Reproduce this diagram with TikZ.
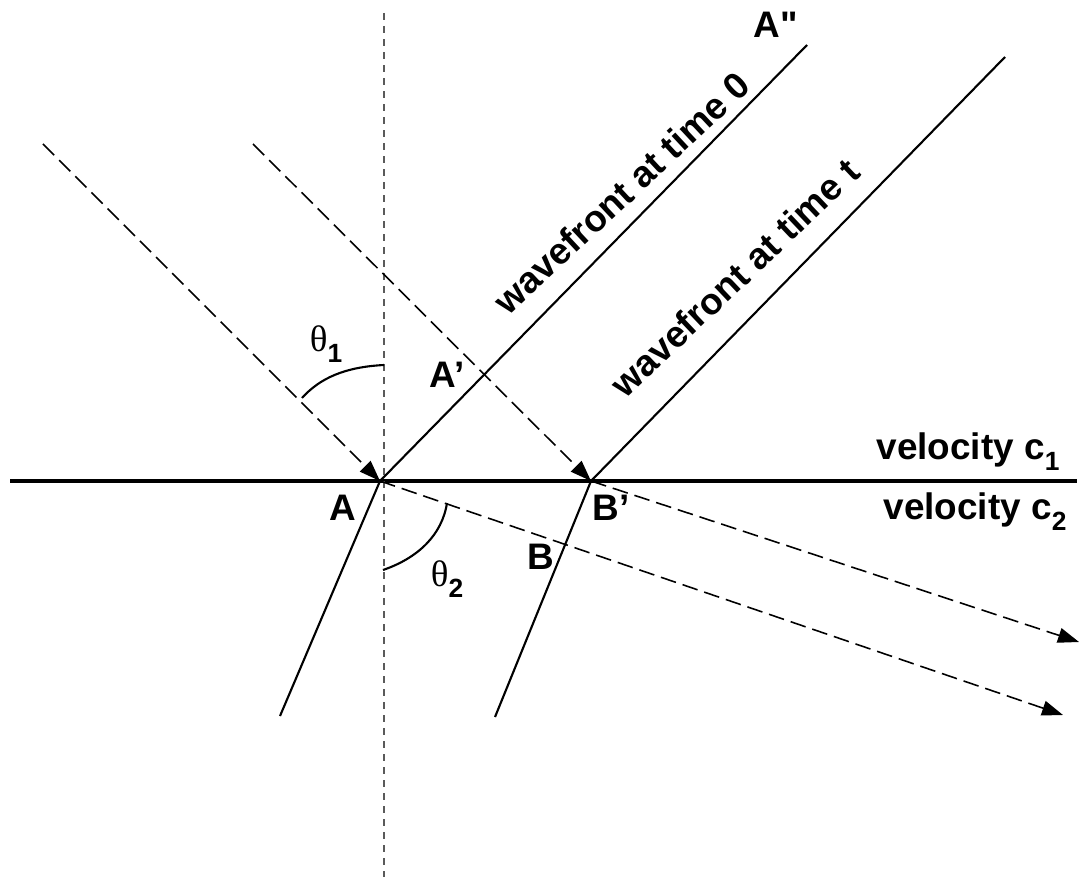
\documentclass[tikz,border=0pt]{standalone}
\usepackage{fontspec}
\setmainfont{Liberation Sans}
\newfontfamily\thetafont{Liberation Serif}
\newfontfamily\quotefont{Liberation Sans}
\usepackage{tikz}
\usetikzlibrary{arrows.meta}
\definecolor{normgray}{RGB}{90,90,90}
\newcommand{\lsub}[1]{\raisebox{-0.3em}{\fontsize{7.5}{8}\selectfont #1}}

\begin{document}
\begin{tikzpicture}[every node/.style={font=\fontsize{10.5}{12}\selectfont\bfseries, inner sep=1pt},
   ray/.style={line width=0.45pt, dash pattern=on 4.5pt off 2pt},
   rayarrow/.style={ray, -{Triangle[length=2.1mm, width=1.5mm]}},
   front/.style={line width=0.6pt},
   normline/.style={normgray, line width=0.6pt, dash pattern=on 2pt off 1.7pt},
   anglemark/.style={line width=0.6pt}]
  \useasboundingbox (0,0) rectangle (10.8,8.8);

  % points on the interface
  \coordinate (A) at (3.80,3.99);
  \coordinate (Bp) at (5.91,3.99);
  \coordinate (ifL) at (0.10,3.99);
  \coordinate (ifR) at (10.77,3.99);
  \coordinate (nTop) at (3.84,8.67);
  \coordinate (nBot) at (3.84,0.03);

  % ray and wavefront ends
  \coordinate (in1) at (0.43,7.36);
  \coordinate (in2) at (2.53,7.36);
  \coordinate (out1) at (10.63,1.65);
  \coordinate (out2) at (10.79,2.38);
  \coordinate (w0) at (8.07,8.35);
  \coordinate (wt) at (10.05,8.23);
  \coordinate (r0) at (2.80,1.64);
  \coordinate (rt) at (4.95,1.63);

  % interface and normal
  \draw[line width=1.4pt] (ifL) -- (ifR);
  \draw[normline] (nTop) -- (nBot);

  % incident and refracted rays
  \draw[rayarrow] (in1) -- (A);
  \draw[rayarrow] (in2) -- (Bp);
  \draw[rayarrow] (A) -- (out1);
  \draw[rayarrow] (Bp) -- (out2);

  % wavefronts
  \draw[front] (A) -- (w0);
  \draw[front] (Bp) -- (wt);
  \draw[front] (A) -- (r0);
  \draw[front] (Bp) -- (rt);

  % angle marks
  \draw[anglemark] (3.02,4.82) .. controls (3.20,5.02) and (3.45,5.13) .. (3.84,5.15);
  \draw[anglemark] (3.83,3.10) .. controls (4.18,3.22) and (4.42,3.45) .. (4.47,3.77);

  % labels
  \node (lA2) at (7.76,8.55) {A{\quotefont\bfseries "}};
  \node (lA1) at (4.47,5.05) {A'};
  \node (lA) at (3.43,3.72) {A};
  \node (lBp) at (6.11,3.72) {B'};
  \node (lB) at (5.41,3.23) {B};
  \node (th1) at (3.26,5.36) {{\thetafont\mdseries θ}\lsub{1}};
  \node (th2) at (4.47,3.01) {{\thetafont\mdseries θ}\lsub{2}};
  \node (vc1) at (9.68,4.28) {velocity c\lsub{1}};
  \node (vc2) at (9.75,3.68) {velocity c\lsub{2}};
  \node[rotate=43, anchor=base west, inner sep=0pt] (lw0) at (5.08,5.63) {wavefront at time 0};
  \node[rotate=43.5, anchor=base west, inner sep=0pt] (lwt) at (6.25,4.80) {wavefront at time t};
\end{tikzpicture}
\end{document}
